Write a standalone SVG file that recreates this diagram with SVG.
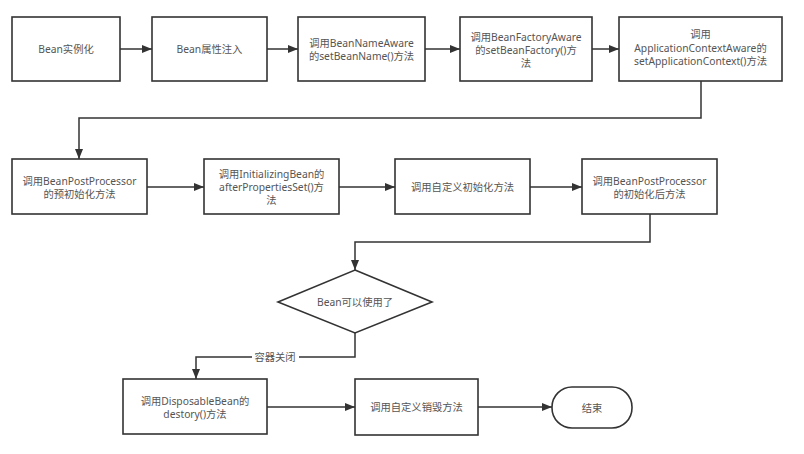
<svg xmlns="http://www.w3.org/2000/svg" width="804" height="454" viewBox="0 0 804 454">
<defs>
<marker id="ah" viewBox="0 0 10 10" refX="10" refY="5" markerWidth="10" markerHeight="10" markerUnits="userSpaceOnUse" orient="auto">
<path d="M0,1 L10,5 L0,9 Z" fill="#333"/>
</marker>
<style>
.n{fill:#fff;stroke:#333;stroke-width:1.6}
.t{font-family:"Noto Sans","Noto Sans CJK SC",sans-serif;font-size:10.3px;fill:#555;text-anchor:middle;dominant-baseline:central}
.c{fill:none;stroke:#333;stroke-width:1.5;marker-end:url(#ah)}
</style>
</defs>
<rect width="804" height="454" fill="#fff"/>
<g id="connectors">
<path class="c" d="M120,49 H152"/>
<path class="c" d="M267,49 H298"/>
<path class="c" d="M425,49 H460"/>
<path class="c" d="M592,49 H619"/>
<path class="c" d="M701,81 V118 H79 V159"/>
<path class="c" d="M147,187 H204"/>
<path class="c" d="M339,187 H395"/>
<path class="c" d="M530,187 H582"/>
<path class="c" d="M650,214 V242 H355 V270"/>
<path class="c" d="M355,333 V357 H196 V379"/>
<path class="c" d="M267,407 H355"/>
<path class="c" d="M478,407 H552"/>
<rect x="252" y="350" width="47" height="14" fill="#fff"/>
<text class="t" x="275" y="357">容器关闭</text>
</g>
<g id="n1"><rect class="n" x="12" y="17" width="108" height="64"/><text class="t" x="66" y="49">Bean实例化</text></g>
<g id="n2"><rect class="n" x="152" y="17" width="115" height="64"/><text class="t" x="209.5" y="49">Bean属性注入</text></g>
<g id="n3"><rect class="n" x="298" y="17" width="127" height="64"/><text class="t" x="361.5" y="43">调用BeanNameAware</text><text class="t" x="361.5" y="56">的setBeanName()方法</text></g>
<g id="n4"><rect class="n" x="460" y="17" width="132" height="64"/><text class="t" x="526" y="37">调用BeanFactoryAware</text><text class="t" x="526" y="50">的setBeanFactory()方</text><text class="t" x="526" y="63">法</text></g>
<g id="n5"><rect class="n" x="619" y="17" width="163" height="64"/><text class="t" x="700.5" y="34">调用</text><text class="t" x="700.5" y="47.5">ApplicationContextAware的</text><text class="t" x="700.5" y="61">setApplicationContext()方法</text></g>
<g id="n6"><rect class="n" x="12" y="159" width="135" height="55"/><text class="t" x="79.5" y="181">调用BeanPostProcessor</text><text class="t" x="79.5" y="194">的预初始化方法</text></g>
<g id="n7"><rect class="n" x="204" y="159" width="135" height="55"/><text class="t" x="271.5" y="174">调用InitializingBean的</text><text class="t" x="271.5" y="187">afterPropertiesSet()方</text><text class="t" x="271.5" y="200">法</text></g>
<g id="n8"><rect class="n" x="395" y="159" width="135" height="55"/><text class="t" x="462.5" y="187">调用自定义初始化方法</text></g>
<g id="n9"><rect class="n" x="582" y="159" width="135" height="55"/><text class="t" x="649.5" y="181">调用BeanPostProcessor</text><text class="t" x="649.5" y="194">的初始化后方法</text></g>
<g id="n10"><polygon class="n" points="355,270 432,302 355,333 278,302"/><text class="t" x="355" y="302">Bean可以使用了</text></g>
<g id="n11"><rect class="n" x="123" y="379" width="144" height="55"/><text class="t" x="195" y="401">调用DisposableBean的</text><text class="t" x="195" y="414">destory()方法</text></g>
<g id="n12"><rect class="n" x="355" y="379" width="123" height="56"/><text class="t" x="416.5" y="407">调用自定义销毁方法</text></g>
<g id="n13"><rect class="n" x="552" y="387" width="80" height="41" rx="20" ry="20"/><text class="t" x="592" y="407.5">结束</text></g>
</svg>
